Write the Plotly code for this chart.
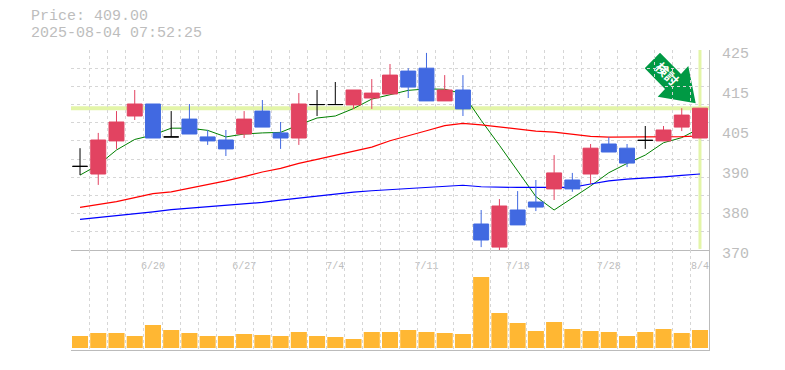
import plotly.graph_objects as go

W, H = 785, 370
dates = ["6/20", "6/27", "7/4", "7/11", "7/18", "7/28", "8/4"]
date_idx = [4, 9, 14, 19, 24, 29, 34]
y_tick_vals = [425, 414, 403, 392, 381, 370]
y_tick_text = ["425", "415", "405", "390", "380", "370"]

opens = [393, 390.9, 400, 406.85, 410.15, 401.1, 406, 401.1, 400.25, 401.9, 408.2, 402.2, 400.8, 410, 410, 409.9, 411.8, 412.9,
         419.2, 420, 411, 414, 377.15, 370.8, 381, 383.2, 386.8, 389.25, 390.9, 399.15, 398, 400.15, 400, 403.8, 400.8]
highs = [398, 402.2, 408.2, 414, 410.15, 408.2, 410.15, 403, 403, 408.2, 411.25, 405.2, 413.15, 414, 416.2, 414, 417, 421.15,
         420, 424.2, 418.1, 418.1, 381, 384, 386.2, 389.25, 396.1, 391.2, 399.15, 401, 399.15, 404.1, 404.1, 409, 409]
lows = [390.6, 387.9, 397.8, 405.75, 400.8, 401.1, 401.9, 398.9, 395.85, 400.8, 403.8, 397.8, 398.9, 406.85, 410, 408.8, 408.8, 412.9,
        411.8, 411, 411, 406.85, 370.8, 370, 376.9, 380.7, 383.75, 386, 388.15, 396.95, 392.8, 397.8, 400, 402.7, 400.8]
closes = [393, 400.25, 405.2, 410.15, 400.8, 401.1, 401.9, 400, 397.8, 406, 403.8, 400.8, 410.15, 410, 410, 414, 413.15, 418.1,
          414.8, 411, 414, 408.8, 372.75, 382.1, 376.9, 381.8, 391.2, 386.8, 398, 396.95, 393.9, 400.15, 403, 407.1, 409]
ma_short = [390.6, 393.4, 397.5, 400.4, 401.6, 403.5, 403.5, 402.9, 401.1, 401.9, 402.2, 402.35, 404.4, 406.3, 406.85, 408.9, 411.5, 412.6,
            413.9, 414.3, 414.2, 413, 405.66, 398.8, 391.7, 384.7, 381, 384.2, 387.6, 391.25, 393.8, 396.1, 399.5, 400.9, 403.5]
ma_mid = [381.7, 382.4, 383.3, 384.4, 385.5, 386, 387, 387.9, 389, 390.2, 391.45, 392.45, 393.8, 394.9, 396, 397, 398.3, 400.05,
          401.35, 402.8, 404.2, 404.8, 404.4, 403.8, 403.3, 402.7, 402.4, 401.8, 401.25, 401.05, 401.05, 401.05, 401.05, 401.2, 401.35]
ma_long = [378.4, 378.9, 379.4, 379.9, 380.5, 381.1, 381.5, 381.9, 382.2, 382.6, 383.1, 383.7, 384.3, 384.8, 385.3, 385.9, 386.3, 386.6,
           387, 387.2, 387.4, 387.8, 387.4, 387.2, 387.2, 387.2, 387.2, 387.2, 388.15, 389, 389.5, 389.7, 390.1, 390.5, 390.9]
volumes = [36, 45, 45, 36, 69, 54, 45, 36, 36, 42, 39, 36, 48, 36, 33, 27, 48, 48,
           54, 48, 45, 42, 213, 105, 75, 51, 78, 57, 51, 48, 36, 48, 57, 45, 54]
current_price = 409.0

RED, BLUE, GRID, AXIS, TXT = "#E24361", "#4169E1", "#D6D6D6", "#BBBBBB", "#BDBDBD"
FONT = "Liberation Mono"
idx = list(range(len(closes)))
x_grid = [i - 0.5 for i in range(len(closes) + 1)]
y_grid = list(range(370, 426, 5))

px = lambda v: v / W
py = lambda v: 1 - v / H
x_dom = [px(70.9), px(709.1)]

fig = go.Figure()
for name, vals, color, w in [("MA5", ma_short, "#008000", 1), ("MA25", ma_mid, "#FF0000", 1.2), ("MA75", ma_long, "#0000FF", 1.2)]:
    fig.add_trace(go.Scatter(x=idx, y=vals, mode="lines", name=name, line=dict(color=color, width=w), xaxis="x", yaxis="y"))

def subset(cond):
    ids = [i for i in idx if cond(opens[i], closes[i])]
    return dict(x=ids, open=[opens[i] for i in ids], high=[highs[i] for i in ids],
                low=[lows[i] for i in ids], close=[closes[i] for i in ids])

for cond, color in [(lambda o, c: c > o, RED), (lambda o, c: c < o, BLUE), (lambda o, c: c == o, "#000000")]:
    fig.add_trace(go.Candlestick(**subset(cond), xaxis="x", yaxis="y3", whiskerwidth=0,
                                 increasing=dict(line=dict(color=color, width=1), fillcolor=color),
                                 decreasing=dict(line=dict(color=color, width=1), fillcolor=color)))
fig.add_trace(go.Bar(x=idx, y=volumes, marker=dict(color="#FFB733", line_width=0), width=0.88, xaxis="x2", yaxis="y2"))

DASH = "3px,3px"
xcommon = dict(range=[-0.5, len(closes) - 0.5], domain=x_dom, showgrid=False, zeroline=False, automargin=False,
               showline=True, linecolor=AXIS, linewidth=1, ticks="",
               minor=dict(tickvals=x_grid, showgrid=True, gridcolor=GRID, griddash=DASH, gridwidth=1, ticks=""))
y_range = [370, 425]
arrow = [(660, 52.7), (644.7, 68.3), (665, 89), (657.7, 96.7), (695.7, 103.3), (688.3, 66), (681, 74)]
arrow_path = "M " + " L ".join(f"{px(a)} {py(b)}" for a, b in arrow) + " Z"

fig.update_layout(
    template="none",
    width=W, height=H, margin=dict(l=0, r=0, t=0, b=0), autosize=False, showlegend=False,
    paper_bgcolor="white", plot_bgcolor="white", hovermode=False,
    xaxis=dict(xcommon, anchor="y", tickmode="array", tickvals=date_idx, ticktext=dates,
               tickfont=dict(family=FONT, size=10, color=TXT), ticklabelstandoff=6, rangeslider=dict(visible=False)),
    xaxis2=dict(xcommon, anchor="y2", showticklabels=False),
    yaxis=dict(domain=[py(250), py(50)], range=y_range, side="right", anchor="x", showgrid=False, zeroline=False,
               automargin=False, showline=True, linecolor=AXIS, ticks="", tickmode="array", tickvals=y_tick_vals,
               ticktext=y_tick_text, tickfont=dict(family=FONT, size=15, color=TXT), ticklabelstandoff=9, ticklabelshift=3,
               minor=dict(tickvals=y_grid, showgrid=True, gridcolor=GRID, griddash=DASH, gridwidth=1, ticks="")),
    yaxis3=dict(domain=[py(250), py(50)], range=y_range, overlaying="y", side="right", anchor="x", showgrid=False,
                automargin=False, zeroline=False, showticklabels=False, ticks=""),
    yaxis2=dict(domain=[py(350), py(250)], range=[-6, 294], side="right", anchor="x2", showgrid=False, zeroline=False,
                automargin=False, showline=True, linecolor=AXIS, showticklabels=False, ticks=""),
    boxgap=0.18, boxgroupgap=0,
    shapes=[
        dict(type="line", xref="x", yref="y", x0=-0.5, x1=34.5, y0=current_price, y1=current_price,
             line=dict(color="#E3F5A8", width=4), layer="below"),
        dict(type="line", xref="x", yref="y", x0=34, x1=34, y0=370.3, y1=425,
             line=dict(color="#E3F5A8", width=3), layer="below"),
        dict(type="path", xref="paper", yref="paper", path=arrow_path, fillcolor="#009944", line_width=0, layer="between"),
    ],
    annotations=[
        dict(text="Price: 409.00", xref="paper", yref="paper", x=px(30), y=py(16.5), xanchor="left", yanchor="middle",
             borderpad=0, showarrow=False, font=dict(family=FONT, size=15, color=TXT)),
        dict(text="2025-08-04 07:52:25", xref="paper", yref="paper", x=px(30), y=py(34), xanchor="left", yanchor="middle",
             borderpad=0, showarrow=False, font=dict(family=FONT, size=15, color=TXT)),
        dict(text="<b>検討</b>", xref="paper", yref="paper", x=px(667), y=py(74), xanchor="center", yanchor="middle",
             textangle=45, showarrow=False, font=dict(family="Noto Sans CJK JP", size=13, color="white")),
    ],
)
fig.write_html("out.html", config=dict(displayModeBar=False),
               post_script="document.body.style.margin='0';document.body.style.overflow='hidden';")
